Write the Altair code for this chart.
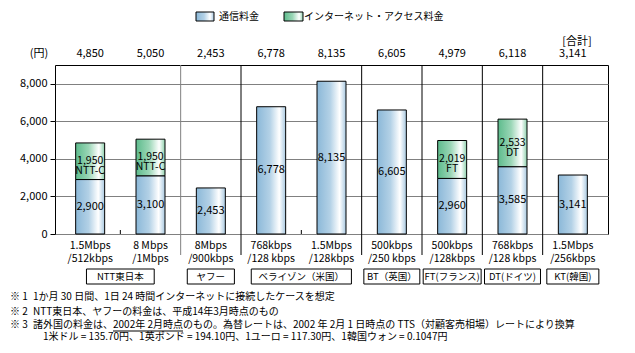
import altair as alt
import pandas as pd

FONT = "Noto Sans CJK JP"

# ---- data ----
down_speed = ["1.5Mbps", "8 Mbps", "8Mbps", "768kbps", "1.5Mbps", "500kbps", "500kbps", "768kbps", "1.5Mbps"]
up_speed = ["/512kbps", "/1Mbps", "/900kbps", "/128 kbps", "/128kbps", "/250 kbps", "/128kbps", "/128 kbps", "/256kbps"]
comm_fee = [2900, 3100, 2453, 6778, 8135, 6605, 2960, 3585, 3141]
net_fee = [1950, 1950, 0, 0, 0, 0, 2019, 2533, 0]
net_provider = ["NTT-C", "NTT-C", "", "", "", "", "FT", "DT", ""]
totals = [4850, 5050, 2453, 6778, 8135, 6605, 4979, 6118, 3141]

groups = ["NTT東日本", "ヤフー", "ベライゾン（米国）", "BT（英国）", "FT(フランス)", "DT(ドイツ)", "KT(韓国)"]
group_first = [0, 2, 3, 5, 6, 7, 8]
group_last = [1, 2, 4, 5, 6, 7, 8]

legend_labels = ["通信料金", "インターネット・アクセス料金"]

notes_marker = ["※ 1", "※ 2", "※ 3", ""]
notes_text = [
    "1か月 30 日間、1日 24 時間インターネットに接続したケースを想定",
    "NTT東日本、ヤフーの料金は、平成14年3月時点のもの",
    "諸外国の料金は、2002年 2月時点のもの。為替レートは、2002 年 2月 1 日時点の TTS（対顧客売相場）レートにより換算",
    "1米ドル = 135.70円、1英ポンド = 194.10円、1ユーロ = 117.30円、1韓国ウォン = 0.1047円",
]

# ---- styles ----
W, H = 553, 169
STEP = W / 9
box_px = [69, 48, 102, 57, 59, 57, 53]
note_y = [232, 247, 260, 272]
note_x = [-22, -22, -22, -12]

BLUE = {"gradient": "linear", "x1": 0, "x2": 1, "y1": 0, "y2": 0, "stops": [
    {"offset": 0, "color": "#8bb8d8"},
    {"offset": 0.45, "color": "#b3d1e6"},
    {"offset": 0.78, "color": "#ffffff"},
    {"offset": 1, "color": "#a9c9e1"}]}
GREEN = {"gradient": "linear", "x1": 0, "x2": 1, "y1": 0, "y2": 0, "stops": [
    {"offset": 0, "color": "#5dbb8c"},
    {"offset": 0.45, "color": "#9ad6b6"},
    {"offset": 0.8, "color": "#ffffff"},
    {"offset": 1, "color": "#8fd1ad"}]}

df = pd.DataFrame({
    "pos": [i + 0.5 for i in range(9)],
    "down": down_speed, "up": up_speed,
    "comm": comm_fee, "net": net_fee, "prov": net_provider, "total": totals,
})
df["zero"] = 0
df["top"] = df["comm"] + df["net"]
df["comm_mid"] = df["comm"] / 2
df["net_mid"] = df["comm"] + df["net"] / 2
df["net_label"] = [f"{n:,}\n{p}" for n, p in zip(df["net"], df["prov"])]
net_df = df[df["net"] > 0].reset_index(drop=True)

gdf = pd.DataFrame({"name": groups, "gfirst": group_first, "glast": group_last, "bw": box_px})
gdf["gc"] = (gdf["gfirst"] + gdf["glast"] + 1) / 2
gdf["gx0"] = gdf["gc"] - gdf["bw"] / 2 / STEP
gdf["gx1"] = gdf["gc"] + gdf["bw"] / 2 / STEP

xs = alt.Scale(domain=[0, 9], nice=False, zero=False)
ys = alt.Scale(domain=[0, 9000], nice=False)
X = alt.X("pos:Q", scale=xs, axis=None)

blue = alt.Chart(df).mark_bar(width=29, color=BLUE, stroke="black", strokeWidth=1, orient="vertical").encode(
    x=X,
    y=alt.Y("comm:Q", scale=ys, stack=None, axis=alt.Axis(
        values=[0, 2000, 4000, 6000, 8000], format=",d", grid=True, gridColor="#808080", gridWidth=1,
        domain=False, tickColor="black", tickSize=5, labelPadding=3, labelFont=FONT, labelFontSize=11,
        labelColor="black", title=None)),
    y2="zero:Q")

green = alt.Chart(net_df).mark_bar(width=29, color=GREEN, stroke="black", strokeWidth=1, orient="vertical").encode(
    x=X, y=alt.Y("comm:Q", stack=None), y2="top:Q")

sep_df = pd.DataFrame({"b": [2, 3, 5, 6, 7, 8], "col": ["#808080", "black", "black", "black", "black", "black"]})
seps = alt.Chart(sep_df).mark_rule(strokeWidth=1).encode(
    x=alt.X("b:Q", axis=None), y=alt.value(0), y2=alt.value(190), color=alt.Color("col:N", scale=None))

tick_df = pd.DataFrame({"b": [1, 4]})
ticks = alt.Chart(tick_df).mark_rule(color="black").encode(
    x=alt.X("b:Q", axis=None), y=alt.value(165), y2=alt.value(169))

lab_blue = alt.Chart(df).mark_text(font=FONT, fontSize=11, color="black", baseline="middle").encode(
    x=X, y=alt.Y("comm_mid:Q"), text=alt.Text("comm:Q", format=",d"))
lab_green = alt.Chart(net_df).mark_text(font=FONT, fontSize=10.5, color="black", baseline="middle",
                                         lineBreak="\n", lineHeight=10).encode(
    x=X, y=alt.Y("net_mid:Q"), text="net_label:N")

tot = alt.Chart(df).mark_text(font=FONT, fontSize=11, color="black", baseline="middle").encode(
    x=X, y=alt.value(-11), text=alt.Text("total:Q", format=",d"))

xl1 = alt.Chart(df).mark_text(font=FONT, fontSize=10.5, color="black", baseline="middle").encode(
    x=X, y=alt.value(181), text="down:N")
xl2 = alt.Chart(df).mark_text(font=FONT, fontSize=10.5, color="black", baseline="middle").encode(
    x=X, y=alt.value(194), text="up:N")

boxes = alt.Chart(gdf).mark_rect(fill="white", stroke="black", strokeWidth=1).encode(
    x=alt.X("gx0:Q", axis=None), x2="gx1:Q", y=alt.value(204), y2=alt.value(219))
box_txt = alt.Chart(gdf).mark_text(font=FONT, fontSize=9.5, color="black", baseline="middle").encode(
    x=alt.X("gc:Q", axis=None), y=alt.value(211.5), text="name:N")

one = pd.DataFrame({"a": [0]})
yen = alt.Chart(one).mark_text(font=FONT, fontSize=11, color="black", baseline="middle", text="(円)").encode(
    x=alt.value(-16), y=alt.value(-11))
gokei = alt.Chart(one).mark_text(font=FONT, fontSize=11, color="black", baseline="middle", text="[合計]").encode(
    x=alt.value(522), y=alt.value(-23))

leg_b = alt.Chart(one).mark_rect(color=BLUE, stroke="black", strokeWidth=1).encode(
    x=alt.value(141), x2=alt.value(159), y=alt.value(-53), y2=alt.value(-44))
leg_g = alt.Chart(one).mark_rect(color=GREEN, stroke="black", strokeWidth=1).encode(
    x=alt.value(229), x2=alt.value(248), y=alt.value(-53), y2=alt.value(-44))
leg_t1 = alt.Chart(one).mark_text(font=FONT, fontSize=10, color="black", baseline="middle", align="left",
                                   text=legend_labels[0]).encode(x=alt.value(164), y=alt.value(-48))
leg_t2 = alt.Chart(one).mark_text(font=FONT, fontSize=10, color="black", baseline="middle", align="left",
                                   text=legend_labels[1]).encode(x=alt.value(249), y=alt.value(-48))

note_layers = []
for m, t, yy, xx in zip(notes_marker, notes_text, note_y, note_x):
    if m:
        note_layers.append(alt.Chart(one).mark_text(font=FONT, fontSize=10, color="black", baseline="middle",
                                                    align="left", text=m).encode(x=alt.value(-45), y=alt.value(yy)))
    note_layers.append(alt.Chart(one).mark_text(font=FONT, fontSize=10, color="black", baseline="middle",
                                                align="left", text=t).encode(x=alt.value(xx), y=alt.value(yy)))
underline = alt.Chart(one).mark_rule(color="black", strokeWidth=1).encode(
    x=alt.value(58), x2=alt.value(128), y=alt.value(266))

chart = alt.layer(
    blue, green, seps, ticks, lab_blue, lab_green, tot, xl1, xl2, boxes, box_txt,
    yen, gokei, leg_b, leg_g, leg_t1, leg_t2, *note_layers, underline
).properties(
    width=W, height=H,
    padding={"left": 55, "top": 65, "right": 27, "bottom": 119},
    autosize=alt.AutoSizeParams(type="none"),
    background="white",
).configure_view(stroke="black", strokeWidth=1)

chart.save("out.html", embed_options={"renderer": "svg", "actions": False})
